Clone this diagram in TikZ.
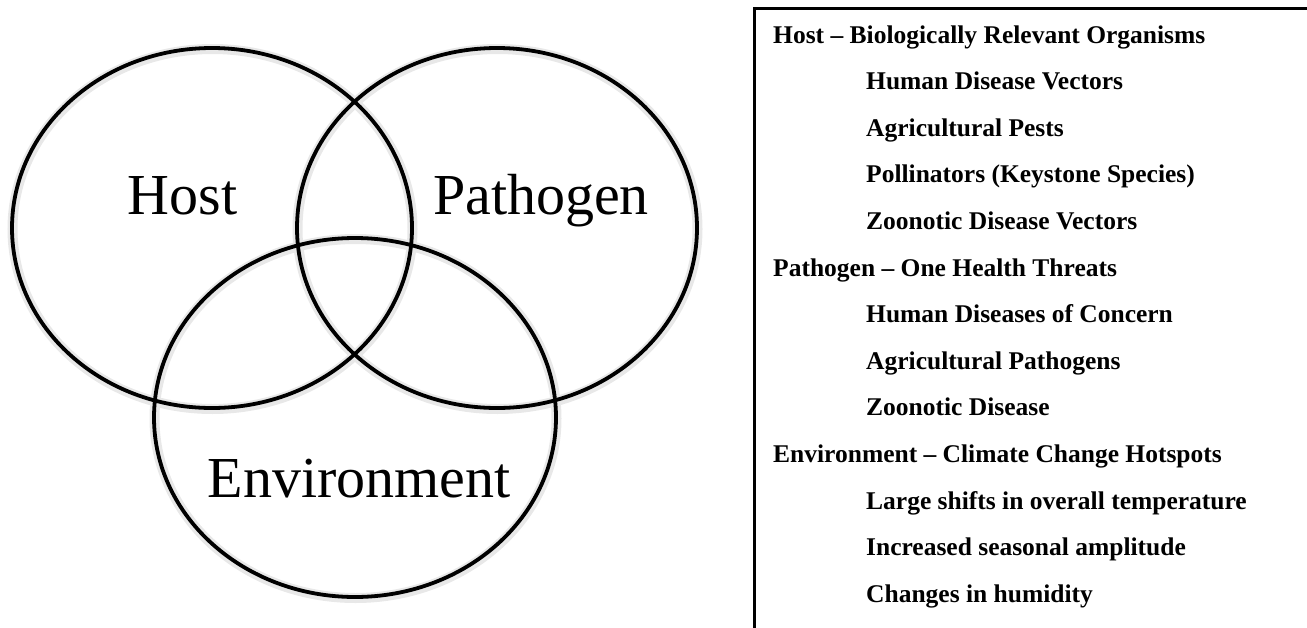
\documentclass[tikz,border=0pt]{standalone}
\usepackage{fontspec}
\setmainfont{Liberation Serif}
\usetikzlibrary{shapes.geometric}
\begin{document}
\begin{tikzpicture}[x=1pt,y=-1pt,
  venn/.style={ellipse,draw=black,line width=3.8pt,inner sep=0pt},
  vshadow/.style={ellipse,draw=black!9,line width=10pt,inner sep=0pt},
  vlabel/.style={anchor=base,inner sep=0pt,font=\fontsize{58}{60}\selectfont},
  head/.style={anchor=base west,inner sep=0pt,font=\fontsize{25.5}{30}\selectfont\bfseries},
  item/.style={head}]
\useasboundingbox (0,0) rectangle (1307,627);
% soft shadows
\node[vshadow,minimum width=400pt,minimum height=360pt] (hs) at (212.5,229) {};
\node[vshadow,minimum width=400pt,minimum height=360pt] (ps) at (497.5,229) {};
\node[vshadow,minimum width=402pt,minimum height=359pt] (es) at (355.5,418.5) {};
% circles
\node[venn,minimum width=400pt,minimum height=360pt] (host) at (212,228) {};
\node[venn,minimum width=400pt,minimum height=360pt] (path) at (497,228) {};
\node[venn,minimum width=402pt,minimum height=359pt] (env) at (355,417.5) {};
\node[vlabel] (hostlab) at (182.5,214) {Host};
\node[vlabel] (pathlab) at (541,214) {Pathogen};
\node[vlabel] (envlab) at (359,497) {Environment};
% legend box
\coordinate (bl) at (754,630);
\coordinate (tl) at (754,8);
\coordinate (tr) at (1310,8);
\draw[line width=3pt] (bl) -- (tl) -- (tr);
\node[head] (l0) at (773,43) {Host – Biologically Relevant Organisms};
\node[item] (l1) at (866,89.6) {Human Disease Vectors};
\node[item] (l2) at (866,136.2) {Agricultural Pests};
\node[item] (l3) at (866,182.8) {Pollinators (Keystone Species)};
\node[item] (l4) at (866,229.4) {Zoonotic Disease Vectors};
\node[head] (l5) at (773,276) {Pathogen – One Health Threats};
\node[item] (l6) at (866,322.6) {Human Diseases of Concern};
\node[item] (l7) at (866,369.2) {Agricultural Pathogens};
\node[item] (l8) at (866,415.8) {Zoonotic Disease};
\node[head] (l9) at (773,462.4) {Environment – Climate Change Hotspots};
\node[item] (l10) at (866,509) {Large shifts in overall temperature};
\node[item] (l11) at (866,555.6) {Increased seasonal amplitude};
\node[item] (l12) at (866,602.2) {Changes in humidity};
\end{tikzpicture}
\end{document}
